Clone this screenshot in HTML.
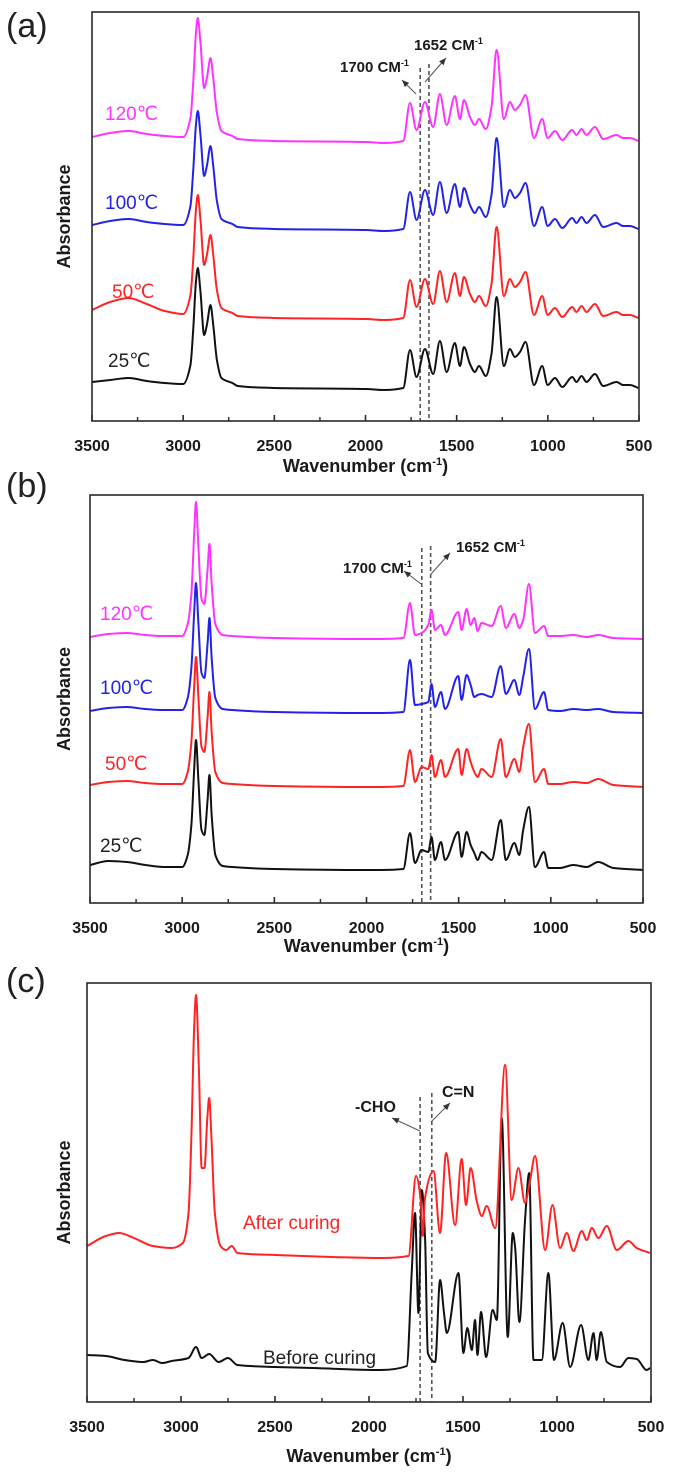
<!DOCTYPE html>
<html><head><meta charset="utf-8">
<style>
html,body{margin:0;padding:0;background:#fff;}
svg{display:block;font-family:"Liberation Sans",sans-serif;}
</style></head>
<body>
<svg id="fig" width="675" height="1475" viewBox="0 0 675 1475" xmlns="http://www.w3.org/2000/svg">
<text x="6" y="37" font-size="34" fill="#222">(a)</text>
<text x="6" y="497" font-size="34" fill="#222">(b)</text>
<text x="6" y="992" font-size="34" fill="#222">(c)</text>
</svg>
<script>
// ---------- Panel (a) data ----------
const wnA = [3500,3400,3300,3200,3100,3000,2960,2945,2930,2920,2905,2885,2870,2850,2835,2815,2790,2730,2700,2500,2000,1900,1793,1756,1720,1674,1629,1592,1555,1510,1482,1460,1427,1400,1378,1340,1309,1281,1241,1208,1181,1153,1122,1076,1031,1001,961,921,866,843,815,788,742,696,623,587,550,504];
const aBlack25 = [8,10,12,9,7,6,25,60,108,122,98,55,65,85,65,30,12,7,4,2,1,0,2,40,13,41,16,49,18,47,24,43,26,18,24,14,36,93,24,41,33,38,48,5,24,5,12,3,13,8,14,8,16,4,8,5,5,2];
const aRed50 = [10,18,22,16,9,6,25,60,110,125,100,55,65,85,65,30,12,7,4,2,1,0,2,40,13,41,16,49,18,47,24,43,26,18,24,14,36,93,24,41,33,38,48,5,24,5,12,3,13,8,14,8,16,4,8,5,5,2];
const aBlue100 = [6,10,12,9,7,6,25,60,106,120,96,55,65,85,65,30,12,7,4,2,1,0,2,39,11,41,16,49,18,47,24,43,26,18,24,14,36,93,24,41,33,38,48,5,24,5,12,3,13,8,14,8,16,4,8,5,5,2];
const aMag120 = [6,10,12,9,7,6,25,60,110,125,100,55,65,85,65,30,12,7,4,2,1,0,2,40,13,41,16,49,18,47,24,43,26,18,24,14,36,93,24,41,33,38,48,5,24,5,12,3,13,8,14,8,16,4,8,5,5,2];
const offA = [31,101,190,278];

// ---------- Panel (b) data ----------
const wnB = [3500,3400,3300,3200,3100,3000,2970,2950,2935,2925,2912,2895,2880,2862,2852,2840,2820,2780,2730,2500,2000,1927,1800,1764,1737,1701,1665,1647,1629,1596,1574,1502,1484,1457,1435,1415,1397,1376,1321,1272,1244,1198,1171,1150,1119,1086,1037,1014,951,878,806,743,661,490];
const bBlack25 = [5,9,8,5,3,3,15,45,100,130,90,40,35,70,95,55,15,4,3,1,0,0,1,37,7,20,18,33,10,28,10,38,13,38,25,17,10,18,10,50,10,27,15,40,63,3,18,2,2,5,3,8,2,0];
const bRed50 = [2,5,6,4,3,3,15,45,100,130,90,40,35,70,95,55,15,4,3,1,0,0,1,37,5,20,18,32,10,27,10,38,12,38,25,15,10,18,10,48,10,28,15,40,63,5,18,3,3,5,4,8,2,0];
const bBlue100 = [2,5,6,4,3,3,15,45,100,130,90,40,35,70,95,55,15,4,3,1,0,0,1,53,8,9,11,29,6,21,4,37,13,38,28,16,18,19,16,47,19,33,18,36,64,4,21,3,2,4,3,4,1,0];
const bMag120 = [2,5,6,4,3,3,15,45,105,137,92,40,35,70,95,55,15,4,3,1,0,0,1,36,4,6,14,29,9,14,4,27,9,30,14,21,8,16,13,33,11,25,11,19,55,6,13,3,3,4,2,4,1,0];
const offB = [33,116,190,264];

// ---------- Panel (c) data ----------
const wnCAfter = [3500,3400,3330,3250,3150,3050,2990,2960,2945,2930,2920,2905,2890,2875,2860,2850,2838,2820,2790,2760,2730,2700,2500,2200,1941,1790,1750,1725,1714,1702,1657,1622,1590,1542,1507,1484,1459,1427,1400,1374,1329,1276,1241,1205,1170,1143,1117,1063,1024,984,948,913,868,842,815,780,735,682,620,576,505];
const cAfter = [12,22,25,20,12,10,15,45,120,230,263,190,90,90,140,160,120,45,12,8,12,5,3,1,0,2,82,58,22,60,87,25,105,33,99,53,90,57,42,52,30,193,58,90,55,78,102,8,53,10,25,7,27,18,30,20,32,8,17,10,5];
const wnCBefore = [3500,3400,3300,3200,3150,3100,3050,2960,2920,2890,2850,2800,2750,2700,2500,2300,1941,1799,1773,1755,1737,1719,1702,1687,1648,1622,1601,1586,1524,1498,1477,1453,1436,1423,1404,1377,1342,1320,1294,1262,1235,1223,1200,1170,1148,1125,1081,1046,1016,970,930,872,833,806,789,767,735,665,620,576,523,505];
const cBefore = [15,14,10,8,10,7,9,12,23,12,16,8,12,5,3,2,0,4,97,157,57,180,133,17,8,90,57,37,97,17,42,20,50,15,58,13,60,50,252,33,137,123,48,150,197,10,10,97,10,47,3,45,10,37,10,38,8,3,12,11,0,2];
const offC = [32,144];

const tickVals = [3500,3000,2500,2000,1500,1000,500];
const minorVals = [3250,2750,2250,1750,1250,750];

const svg = document.getElementById('fig');
const NS = 'http://www.w3.org/2000/svg';
function mk(tag, attrs, parent){
  const e = document.createElementNS(NS, tag);
  for (const k in attrs) e.setAttribute(k, attrs[k]);
  (parent||svg).appendChild(e);
  return e;
}
function monotonePath(pts){
  const n = pts.length;
  if (n < 2) return '';
  const dx=[], dy=[], m=[];
  for (let i=0;i<n-1;i++){dx.push(pts[i+1][0]-pts[i][0]); dy.push(pts[i+1][1]-pts[i][1]); m.push(dy[i]/dx[i]);}
  const t=[m[0]];
  for (let i=1;i<n-1;i++){ if (m[i-1]*m[i]<=0) t.push(0); else { const w1=2*dx[i]+dx[i-1], w2=dx[i]+2*dx[i-1]; t.push((w1+w2)/(w1/m[i-1]+w2/m[i])); } }
  t.push(m[n-2]);
  let d = 'M'+pts[0][0].toFixed(2)+','+pts[0][1].toFixed(2);
  for (let i=0;i<n-1;i++){
    const h = dx[i]/3;
    d += ' C'+(pts[i][0]+h).toFixed(2)+','+(pts[i][1]+h*t[i]).toFixed(2)+' '+(pts[i+1][0]-h).toFixed(2)+','+(pts[i+1][1]-h*t[i+1]).toFixed(2)+' '+pts[i+1][0].toFixed(2)+','+pts[i+1][1].toFixed(2);
  }
  return d;
}
function panel(p){
  const xs = wn => p.L + (3500-wn)/3000*(p.R-p.L);
  const ys = v => p.B - v;
  const g = mk('g', {});
  
  
  const clipId = p.name+'-clip';
  const cp = mk('clipPath', {id: clipId}, g);
  mk('rect', {x:p.L, y:p.T, width:p.R-p.L, height:p.B-p.T}, cp);
  p.dashes.forEach((wn,i)=>{
    const l = mk('line', {x1:xs(wn), x2:xs(wn), y1:p.dashTop[i], y2:p.B, stroke:'#555', 'stroke-width':1.6, 'stroke-dasharray':'4,3'}, g);
    
    
  });
  p.series.forEach(s=>{
    const pts = s.wn.map((w,i)=>[xs(w), ys(s.off + s.vals[i])]);
    const path = mk('path', {d: monotonePath(pts), fill:'none', stroke:s.color, 'stroke-width':2, 'stroke-linejoin':'round', 'clip-path':'url(#'+clipId+')'}, g);
    
    
  });
  const fr = mk('rect', {x:p.L, y:p.T, width:p.R-p.L, height:p.B-p.T, fill:'none', stroke:'#2a2a2a', 'stroke-width':1.6}, g);
  
  
  tickVals.forEach(v=>{
    mk('line', {x1:xs(v), x2:xs(v), y1:p.B, y2:p.B-6, stroke:'#2a2a2a', 'stroke-width':1.6}, g);
    const t = mk('text', {x:xs(v), y:p.B+30, 'font-size':16, 'font-weight':'bold', 'text-anchor':'middle', fill:'#1a1a1a'}, g);
    t.textContent = v;
    
    
  });
  minorVals.forEach(v=>{
    mk('line', {x1:xs(v), x2:xs(v), y1:p.B, y2:p.B-4, stroke:'#2a2a2a', 'stroke-width':1.4}, g);
  });
  const xt = mk('text', {x:(p.L+p.R)/2, y:p.titleY, 'font-size':18, 'font-weight':'bold', 'text-anchor':'middle', fill:'#1a1a1a'}, g);
  
  
  xt.textContent = 'Wavenumber (cm';
  const sup = mk('tspan', {dy:-7, 'font-size':11}, xt);
  sup.textContent = '-1';
  const cl = mk('tspan', {dy:7}, xt);
  cl.textContent = ')';
  const cy = (p.T+p.B)/2;
  const yt = mk('text', {x:70, y:cy, 'font-size':18, 'font-weight':'bold', 'text-anchor':'middle', fill:'#1a1a1a', transform:'rotate(-90 70 '+cy+')'}, g);
  yt.textContent = 'Absorbance';
  
  
  p.labels.forEach(lb=>{
    const t = mk('text', {x:lb.x, y:lb.y, 'font-size':lb.size||19, fill:lb.color, 'font-weight':lb.bold?'bold':'normal'}, g);
    t.textContent = lb.text;
    
    
    if (lb.sup){ const s2 = mk('tspan', {dy:-6, 'font-size':9}, t); s2.textContent = lb.sup; }
  });
  p.arrows.forEach(a=>{
    const l = mk('line', {x1:a[0], y1:a[1], x2:a[2], y2:a[3], stroke:'#555', 'stroke-width':1}, g);
    
    
    const ang = Math.atan2(a[3]-a[1], a[2]-a[0]);
    const hx = a[2], hy = a[3], L = 7, W = 3;
    const bx = hx - L*Math.cos(ang), by = hy - L*Math.sin(ang);
    mk('polygon', {points: hx+','+hy+' '+(bx+W*Math.sin(ang))+','+(by-W*Math.cos(ang))+' '+(bx-W*Math.sin(ang))+','+(by+W*Math.cos(ang)), fill:'#333'}, g);
  });
}
panel({name:'panel-a', L:92, R:639, T:12, B:421, titleY:472,
  dashes:[1700,1652], dashTop:[68,64],
  series:[
    {name:'series-a-25c', wn:wnA, vals:aBlack25, off:offA[0], color:'#111'},
    {name:'series-a-50c', wn:wnA, vals:aRed50, off:offA[1], color:'#ff2424'},
    {name:'series-a-100c', wn:wnA, vals:aBlue100, off:offA[2], color:'#2323e8'},
    {name:'series-a-120c', wn:wnA, vals:aMag120, off:offA[3], color:'#ff33ff'}],
  labels:[
    {text:'120℃', x:105, y:120, color:'#ff33ff', name:'label-a-120c'},
    {text:'100℃', x:105, y:209, color:'#2323e8', name:'label-a-100c'},
    {text:'50℃', x:112, y:298, color:'#ff2424', name:'label-a-50c'},
    {text:'25℃', x:108, y:367, color:'#222', name:'label-a-25c'},
    {text:'1652 CM', sup:'-1', x:414, y:50, color:'#1a1a1a', bold:true, size:15, name:'annotation-a-1652'},
    {text:'1700 CM', sup:'-1', x:340, y:72, color:'#1a1a1a', bold:true, size:15, name:'annotation-a-1700'}],
  arrows:[[425,82,446,58],[416,94,402,80]]
});
panel({name:'panel-b', L:90, R:643, T:495, B:903, titleY:952,
  dashes:[1700,1652], dashTop:[548,546],
  series:[
    {name:'series-b-25c', wn:wnB, vals:bBlack25, off:offB[0], color:'#111'},
    {name:'series-b-50c', wn:wnB, vals:bRed50, off:offB[1], color:'#ff2424'},
    {name:'series-b-100c', wn:wnB, vals:bBlue100, off:offB[2], color:'#2323e8'},
    {name:'series-b-120c', wn:wnB, vals:bMag120, off:offB[3], color:'#ff33ff'}],
  labels:[
    {text:'120℃', x:100, y:620, color:'#ff33ff', name:'label-b-120c'},
    {text:'100℃', x:100, y:694, color:'#2323e8', name:'label-b-100c'},
    {text:'50℃', x:105, y:770, color:'#ff2424', name:'label-b-50c'},
    {text:'25℃', x:100, y:852, color:'#222', name:'label-b-25c'},
    {text:'1652 CM', sup:'-1', x:456, y:552, color:'#1a1a1a', bold:true, size:15, name:'annotation-b-1652'},
    {text:'1700 CM', sup:'-1', x:343, y:573, color:'#1a1a1a', bold:true, size:15, name:'annotation-b-1700'}],
  arrows:[[431,574,450,553],[421,584,404,571]]
});
panel({name:'panel-c', L:87, R:651, T:983, B:1402, titleY:1462,
  dashes:[1728,1666], dashTop:[1097,1093],
  series:[
    {name:'series-c-before-curing', wn:wnCBefore, vals:cBefore, off:offC[0], color:'#111'},
    {name:'series-c-after-curing', wn:wnCAfter, vals:cAfter, off:offC[1], color:'#ff2424'}],
  labels:[
    {text:'After curing', x:243, y:1229, color:'#ff2424', name:'label-after-curing'},
    {text:'Before curing', x:263, y:1364, color:'#222', name:'label-before-curing'},
    {text:'C=N', x:442, y:1097, color:'#1a1a1a', bold:true, size:16, name:'annotation-c-cn'},
    {text:'-CHO', x:355, y:1112, color:'#1a1a1a', bold:true, size:16, name:'annotation-c-cho'}],
  arrows:[[431,1122,450,1103],[420,1131,392,1118]]
});
</script>
</body></html>
